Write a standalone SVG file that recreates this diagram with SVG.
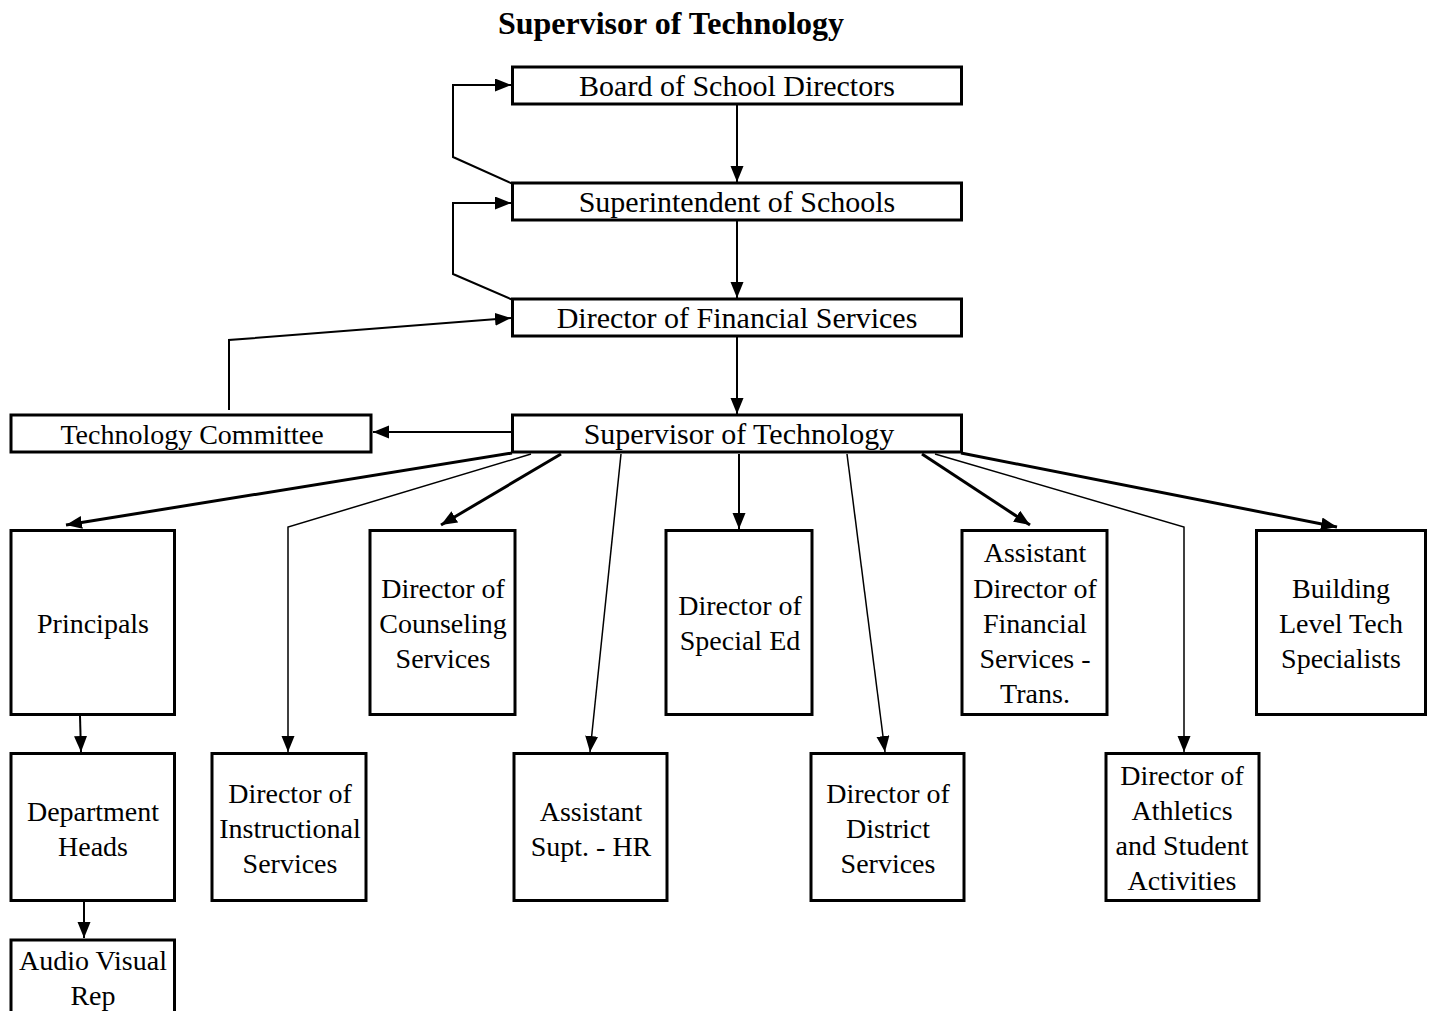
<svg xmlns="http://www.w3.org/2000/svg" width="1436" height="1011" viewBox="0 0 1436 1011">
  <style>
    .box { fill: #fff; stroke: #000; stroke-width: 3; }
    .t { font-family: "Liberation Serif", "Times New Roman", serif; font-size: 30px; fill: #000; text-anchor: middle; }
    .s { font-size: 28px; }
    .title { font-family: "Liberation Serif", "Times New Roman", serif; font-size: 32px; font-weight: bold; fill: #000; text-anchor: middle; }
    .ln { fill: none; stroke: #000; stroke-width: 2; }
    .thin { stroke-width: 1.5; }
    .thick { stroke-width: 3; }
  </style>
  <defs>
    <marker id="ah" markerUnits="userSpaceOnUse" markerWidth="17" markerHeight="14" refX="16" refY="6.5" orient="auto">
      <path d="M0,0 L16,6.5 L0,13 Z" fill="#000"/>
    </marker>
  </defs>
  <rect width="1436" height="1011" fill="#fff"/>

  <text class="title" x="671" y="34">Supervisor of Technology</text>

  <!-- connectors -->
  <g id="connectors">
    <path class="ln" d="M737,104 L737,182" marker-end="url(#ah)"/>
    <path class="ln" d="M737,221 L737,298" marker-end="url(#ah)"/>
    <path class="ln" d="M737,337 L737,414" marker-end="url(#ah)"/>
    <path class="ln" d="M513,184 L453,157 L453,85 L511,85" marker-end="url(#ah)"/>
    <path class="ln" d="M513,300 L453,274 L453,203 L511,203" marker-end="url(#ah)"/>
    <path class="ln" d="M229,410 L229,340 L511,318" marker-end="url(#ah)"/>
    <path class="ln" d="M512,432 L373,432" marker-end="url(#ah)"/>

    <path class="ln thick" d="M512,453 L66,525" marker-end="url(#ah)"/>
    <path class="ln thin" d="M531,454 L288,527 L288,752" marker-end="url(#ah)"/>
    <path class="ln thick" d="M561,454 L441,525" marker-end="url(#ah)"/>
    <path class="ln thin" d="M621,454 L590,752" marker-end="url(#ah)"/>
    <path class="ln" d="M739,454 L739,529" marker-end="url(#ah)"/>
    <path class="ln thin" d="M847,454 L885,752" marker-end="url(#ah)"/>
    <path class="ln thick" d="M922,454 L1030,525" marker-end="url(#ah)"/>
    <path class="ln thin" d="M935,454 L1184,527 L1184,752" marker-end="url(#ah)"/>
    <path class="ln thick" d="M961,453 L1337,527" marker-end="url(#ah)"/>

    <path class="ln" d="M80,716 L81,752" marker-end="url(#ah)"/>
    <path class="ln" d="M84,902 L84,938" marker-end="url(#ah)"/>
  </g>

  <!-- top chain -->
  <g id="board">
    <rect class="box" x="512.5" y="67" width="449" height="37"/>
    <text class="t" x="737" y="96">Board of School Directors</text>
  </g>
  <g id="superintendent">
    <rect class="box" x="512.5" y="183" width="449" height="37"/>
    <text class="t" x="737" y="212">Superintendent of Schools</text>
  </g>
  <g id="financial">
    <rect class="box" x="512.5" y="299" width="449" height="37"/>
    <text class="t" x="737" y="328">Director of Financial Services</text>
  </g>
  <g id="supervisor">
    <rect class="box" x="512.5" y="415" width="449" height="37"/>
    <text class="t" x="739" y="444">Supervisor of Technology</text>
  </g>
  <g id="committee">
    <rect class="box" x="11" y="415" width="360" height="37"/>
    <text class="t s" x="192" y="444">Technology Committee</text>
  </g>

  <!-- second row -->
  <g id="principals">
    <rect class="box" x="11" y="530.5" width="163.5" height="184"/>
    <text class="t s" x="93" y="633">Principals</text>
  </g>
  <g id="counseling">
    <rect class="box" x="370" y="530.5" width="145" height="184"/>
    <text class="t s" x="443" y="598">Director of</text>
    <text class="t s" x="443" y="633">Counseling</text>
    <text class="t s" x="443" y="668">Services</text>
  </g>
  <g id="special-ed">
    <rect class="box" x="666" y="530.5" width="146" height="184"/>
    <text class="t s" x="740" y="615">Director of</text>
    <text class="t s" x="740" y="650">Special Ed</text>
  </g>
  <g id="asst-financial">
    <rect class="box" x="962" y="530.5" width="145" height="184"/>
    <text class="t s" x="1035" y="562">Assistant</text>
    <text class="t s" x="1035" y="598">Director of</text>
    <text class="t s" x="1035" y="633">Financial</text>
    <text class="t s" x="1035" y="668">Services -</text>
    <text class="t s" x="1035" y="703">Trans.</text>
  </g>
  <g id="building-tech">
    <rect class="box" x="1256.5" y="530.5" width="169" height="184"/>
    <text class="t s" x="1341" y="598">Building</text>
    <text class="t s" x="1341" y="633">Level Tech</text>
    <text class="t s" x="1341" y="668">Specialists</text>
  </g>

  <!-- third row -->
  <g id="dept-heads">
    <rect class="box" x="11" y="753.5" width="163.5" height="147"/>
    <text class="t s" x="93" y="821">Department</text>
    <text class="t s" x="93" y="856">Heads</text>
  </g>
  <g id="instructional">
    <rect class="box" x="212" y="753.5" width="154" height="147"/>
    <text class="t s" x="290" y="803">Director of</text>
    <text class="t s" x="290" y="838">Instructional</text>
    <text class="t s" x="290" y="873">Services</text>
  </g>
  <g id="hr">
    <rect class="box" x="514" y="753.5" width="153" height="147"/>
    <text class="t s" x="591" y="821">Assistant</text>
    <text class="t s" x="591" y="856">Supt. - HR</text>
  </g>
  <g id="district">
    <rect class="box" x="811" y="753.5" width="153" height="147"/>
    <text class="t s" x="888" y="803">Director of</text>
    <text class="t s" x="888" y="838">District</text>
    <text class="t s" x="888" y="873">Services</text>
  </g>
  <g id="athletics">
    <rect class="box" x="1106" y="753.5" width="153" height="147"/>
    <text class="t s" x="1182" y="785">Director of</text>
    <text class="t s" x="1182" y="820">Athletics</text>
    <text class="t s" x="1182" y="855">and Student</text>
    <text class="t s" x="1182" y="890">Activities</text>
  </g>
  <g id="av-rep">
    <rect class="box" x="11" y="940" width="163.5" height="90"/>
    <text class="t s" x="93" y="970">Audio Visual</text>
    <text class="t s" x="93" y="1005">Rep</text>
  </g>
</svg>
